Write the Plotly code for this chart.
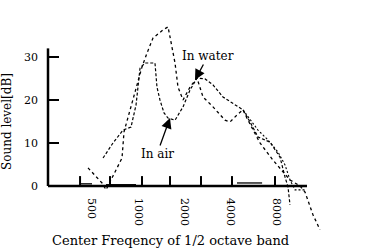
import numpy as np
import plotly.graph_objects as go

# ---------------- data ----------------
air_freq = [590, 685, 796, 897, 967, 1027, 1107, 1285, 1324, 1385, 1471, 1562, 1735, 1956,
            2172, 2412, 2719, 3066, 3561, 4075, 4806, 5337, 6016, 7204, 8369, 9019, 9433, 9722]
air_db = [6.5, 10.0, 13.0, 13.7, 18.8, 27.4, 28.6, 28.6, 23.0, 20.0, 17.0, 15.8, 15.3, 18.4,
          22.3, 25.1, 24.9, 23.5, 20.7, 19.3, 17.7, 14.9, 11.4, 10.2, 6.7, 2.1, -0.2, -4.4]

water_freq = [471, 581, 617, 675, 784, 808, 924, 1058, 1140, 1247, 1449, 1562, 1609, 1735,
              1814, 1956, 2172, 2412, 2639, 3066, 3670, 3956, 4392, 4806, 5180, 5752, 6199,
              7537, 8623, 9722, 11291, 12170, 13720, 15240]
water_db = [4.2, 0.7, -0.9, 1.9, 6.5, 12.6, 20.0, 27.7, 30.9, 34.4, 36.3, 37.0, 34.7, 28.6,
            23.0, 20.0, 23.0, 25.1, 20.7, 18.4, 15.3, 14.9, 16.5, 17.7, 15.3, 12.3, 10.0,
            6.0, 3.7, 1.4, 0.0, -1.4, -6.7, -10.2]

water2_freq = [4806, 6016, 6990, 8121, 9019, 9722, 10477, 12170]
water2_db = [17.7, 13.0, 10.7, 7.9, 4.9, 1.4, -0.9, -0.9]

floor_freq = [418, 500, None, 617, 967, None, 4392, 6400]
floor_db = [0.5, 0.5, None, 0.3, 0.3, None, 0.7, 0.7]

tick_freqs = [418, 655, 1058, 1609, 2561, 4075, 7764]
label_freqs = [500, 1000, 2000, 4000, 8000]
label_text = ["500", "1000", "2000", "4000", "8000"]
y_ticks = [0, 10, 20, 30]
y_axis_top = 32

# ---------------- layout geometry ----------------
W, H = 371, 249
L, R, T, B = 48, 41, 20, 14
PW, PH = W - L - R, H - T - B
PX_PER_OCT = 46.25


def f_at(px):
    return 500 * 2 ** ((px - 92) / PX_PER_OCT)


xr = [np.log10(f_at(L)), np.log10(f_at(W - R))]
yr = [-11.4, 38.6]


def fx_paper(f):
    return (np.log10(f) - xr[0]) / (xr[1] - xr[0])


def px_paper_x(px):
    return (px - L) / PW


def px_paper_y(py):
    return (H - B - py) / PH


FONT = "DejaVu Serif"

fig = go.Figure()
fig.add_trace(go.Scatter(x=air_freq, y=air_db, mode="lines",
                         line=dict(color="black", width=1.2, dash="3px,2px"),
                         showlegend=False))
fig.add_trace(go.Scatter(x=water_freq, y=water_db, mode="lines",
                         line=dict(color="black", width=1.3, dash="dot"),
                         showlegend=False))
fig.add_trace(go.Scatter(x=water2_freq, y=water2_db, mode="lines",
                         line=dict(color="black", width=1.1, dash="2px,2px"),
                         showlegend=False))
fig.add_trace(go.Scatter(x=floor_freq, y=floor_db, mode="lines", connectgaps=False,
                         line=dict(color="black", width=1.3),
                         showlegend=False))

shapes = []
# y axis line
shapes.append(dict(type="line", xref="paper", yref="y", x0=0, x1=0, y0=0, y1=y_axis_top,
                   line=dict(color="black", width=2.5)))
# x axis line
shapes.append(dict(type="line", xref="paper", yref="y", x0=0, x1=px_paper_x(307), y0=0, y1=0,
                   line=dict(color="black", width=2.5)))
# x tick marks
for tf in tick_freqs:
    shapes.append(dict(type="line", xref="paper", yref="y", x0=fx_paper(tf), x1=fx_paper(tf),
                       y0=0, y1=2.3, line=dict(color="black", width=2)))

annotations = [
    dict(x=np.log10(f_at(195)), y=(186 - 80) / 4.3, xref="x", yref="y", text="In water",
         showarrow=True, ax=13, ay=-24, arrowhead=2, arrowsize=1.6, arrowwidth=1.3,
         arrowcolor="black", font=dict(family=FONT, size=12, color="black")),
    dict(x=np.log10(f_at(170)), y=(186 - 118) / 4.3, xref="x", yref="y", text="In air",
         showarrow=True, ax=-13, ay=36, arrowhead=2, arrowsize=1.6, arrowwidth=1.3,
         arrowcolor="black", font=dict(family=FONT, size=12, color="black")),
    dict(x=px_paper_x(170), y=px_paper_y(241), xref="paper", yref="paper",
         text="Center Freqency of 1/2 octave band", showarrow=False,
         xanchor="center", yanchor="middle", font=dict(family=FONT, size=13, color="black")),
    dict(x=px_paper_x(7), y=px_paper_y(122), xref="paper", yref="paper",
         text="Sound level[dB]", showarrow=False, textangle=-90,
         xanchor="center", yanchor="middle", font=dict(family=FONT, size=12, color="black")),
]

fig.update_layout(
    width=W, height=H,
    margin=dict(l=L, r=R, t=T, b=B, pad=0),
    paper_bgcolor="white", plot_bgcolor="white",
    shapes=shapes, annotations=annotations,
    font=dict(family=FONT, size=11, color="black"),
    xaxis=dict(type="log", range=xr, anchor="free", position=(0 - yr[0]) / (yr[1] - yr[0]),
               tickvals=label_freqs, ticktext=label_text, tickangle=90, ticks="",
               showgrid=False, zeroline=False, showline=False, ticklabelstandoff=11,
               tickfont=dict(family=FONT, size=11, color="black")),
    yaxis=dict(range=yr, tickvals=y_ticks, ticks="inside", ticklen=11, tickwidth=2,
               tickcolor="black", showgrid=False, zeroline=False, showline=False,
               ticklabelstandoff=9, tickfont=dict(family=FONT, size=11, color="black")),
)

fig.write_html("out.html")
